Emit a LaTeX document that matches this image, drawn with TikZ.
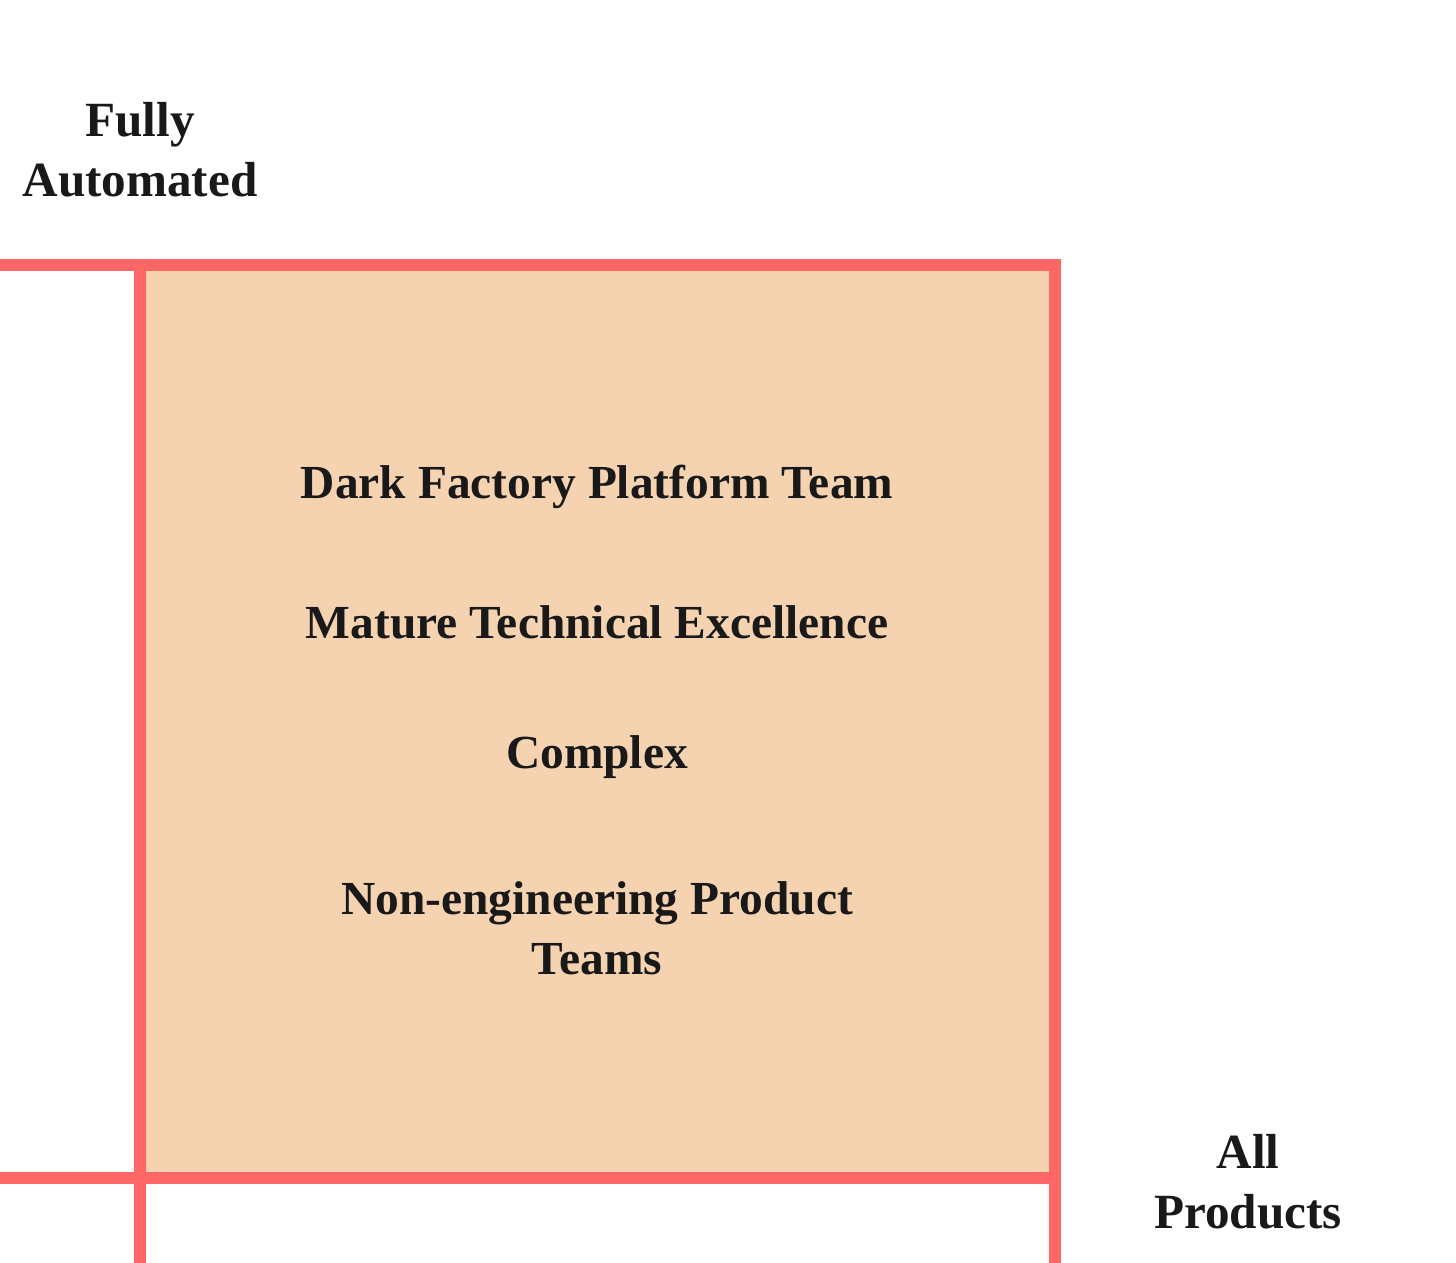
\documentclass[tikz,border=0pt]{standalone}
\usepackage{fontspec}
\setmainfont{Liberation Serif}
\definecolor{gridred}{HTML}{FF6666}
\definecolor{cellfill}{HTML}{F6D3B0}
\tikzset{%
  gridline/.style = {draw=gridred, line width=0.25cm},%
  label/.style    = {font=\bfseries\fontsize{27}{34}\selectfont, text=black!90,%
                     align=center, inner sep=0pt},%
  axis/.style     = {label, font=\bfseries\fontsize{28}{34}\selectfont}%
}
\begin{document}
\begin{tikzpicture}[x=0.02cm,y=-0.02cm]
  \useasboundingbox (0,0) rectangle (1456,1263);
  % corners of the cell
  \coordinate (tl) at (140,265);
  \coordinate (tr) at (1055,265);
  \coordinate (bl) at (140,1178);
  \coordinate (br) at (1055,1178);
  \fill[cellfill] (tl) rectangle (br);
  % grid lines
  \coordinate (lt) at (0,265);
  \coordinate (lb) at (0,1178);
  \coordinate (bbl) at (140,1263);
  \coordinate (bbr) at (1055,1263);
  \draw[gridline] (lt) -- (tr) -- (bbr);
  \draw[gridline] (lb) -- (br);
  \draw[gridline] (tl) -- (bbl);
  % axis texts
  \node[axis] (yaxis) at (140,150) {Fully\\Automated};
  \node[axis] (xaxis) at (1248,1182) {All\\Products};
  % cell texts
  \node[label] (team)    at (597,487) {Dark Factory Platform Team};
  \node[label] (mature)  at (597,622) {Mature Technical Excellence};
  \node[label] (complex) at (597,757) {Complex};
  \node[label] (product) at (597,928) {Non-engineering Product\\Teams};
\end{tikzpicture}
\end{document}
